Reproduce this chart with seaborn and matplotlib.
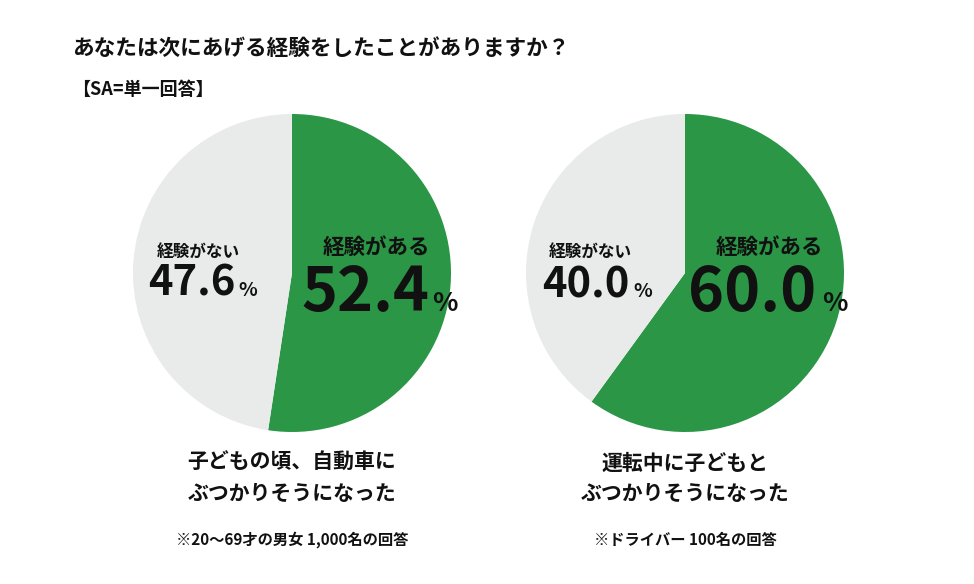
import matplotlib
matplotlib.use("Agg")
import matplotlib.pyplot as plt
import seaborn as sns

sns.set_theme(style="white")
plt.rcParams["font.family"] = ["Noto Sans CJK JP", "DejaVu Sans"]

# data
labels = ["経験がある", "経験がない"]
left_values = [52.4, 47.6]
right_values = [60.0, 40.0]
left_caption = "子どもの頃、自動車に\nぶつかりそうになった"
right_caption = "運転中に子どもと\nぶつかりそうになった"
left_note = "※20〜69才の男女 1,000名の回答"
right_note = "※ドライバー 100名の回答"
title = "あなたは次にあげる経験をしたことがありますか？"
subtitle = "【SA=単一回答】"

GREEN = "#2a9646"
GRAY = "#e9eaea"
W, H = 974, 584

fig = plt.figure(figsize=(W / 100, H / 100), dpi=100)
fig.patch.set_facecolor("white")


def px(x, y):
    return x / W, 1 - y / H


def draw_pie(cx, cy, r, values):
    ax = fig.add_axes([(cx - r) / W, 1 - (cy + r) / H, 2 * r / W, 2 * r / H])
    ax.pie(values, colors=[GREEN, GRAY], startangle=90, counterclock=False,
           radius=1, wedgeprops=dict(linewidth=0))
    ax.set_xlim(-1, 1)
    ax.set_ylim(-1, 1)
    ax.set_axis_off()
    return ax


def txt(x, y, s, size, ha="left", va="center"):
    fig.text(*px(x, y), s, fontsize=size, fontweight="bold", ha=ha, va=va,
             color="#111111", linespacing=1.55)


draw_pie(292, 273, 159, left_values)
draw_pie(685, 273, 159, right_values)

txt(72, 48, title, 15.6)
txt(72, 89, subtitle, 13)

# left pie labels
txt(376, 247, labels[0], 15.5, ha="center")
txt(365, 311, f"{left_values[0]:.1f}", 44, ha="center", va="baseline")
txt(432, 311, "%", 19, va="baseline")
txt(198, 252, labels[1], 12, ha="center")
txt(192, 296, f"{left_values[1]:.1f}", 30, ha="center", va="baseline")
txt(238, 296, "%", 14, va="baseline")

# right pie labels
txt(769, 247, labels[0], 15.5, ha="center")
txt(752, 311, f"{right_values[0]:.1f}", 44, ha="center", va="baseline")
txt(822, 311, "%", 19, va="baseline")
txt(590, 252, labels[1], 12, ha="center")
txt(586, 297, f"{right_values[1]:.1f}", 30, ha="center", va="baseline")
txt(633, 297, "%", 14, va="baseline")

txt(292, 478, left_caption, 15, ha="center")
txt(685, 478, right_caption, 15, ha="center")
txt(292, 540, left_note, 11, ha="center")
txt(685, 540, right_note, 11, ha="center")

fig.savefig("out.png", dpi=100, facecolor="white")
